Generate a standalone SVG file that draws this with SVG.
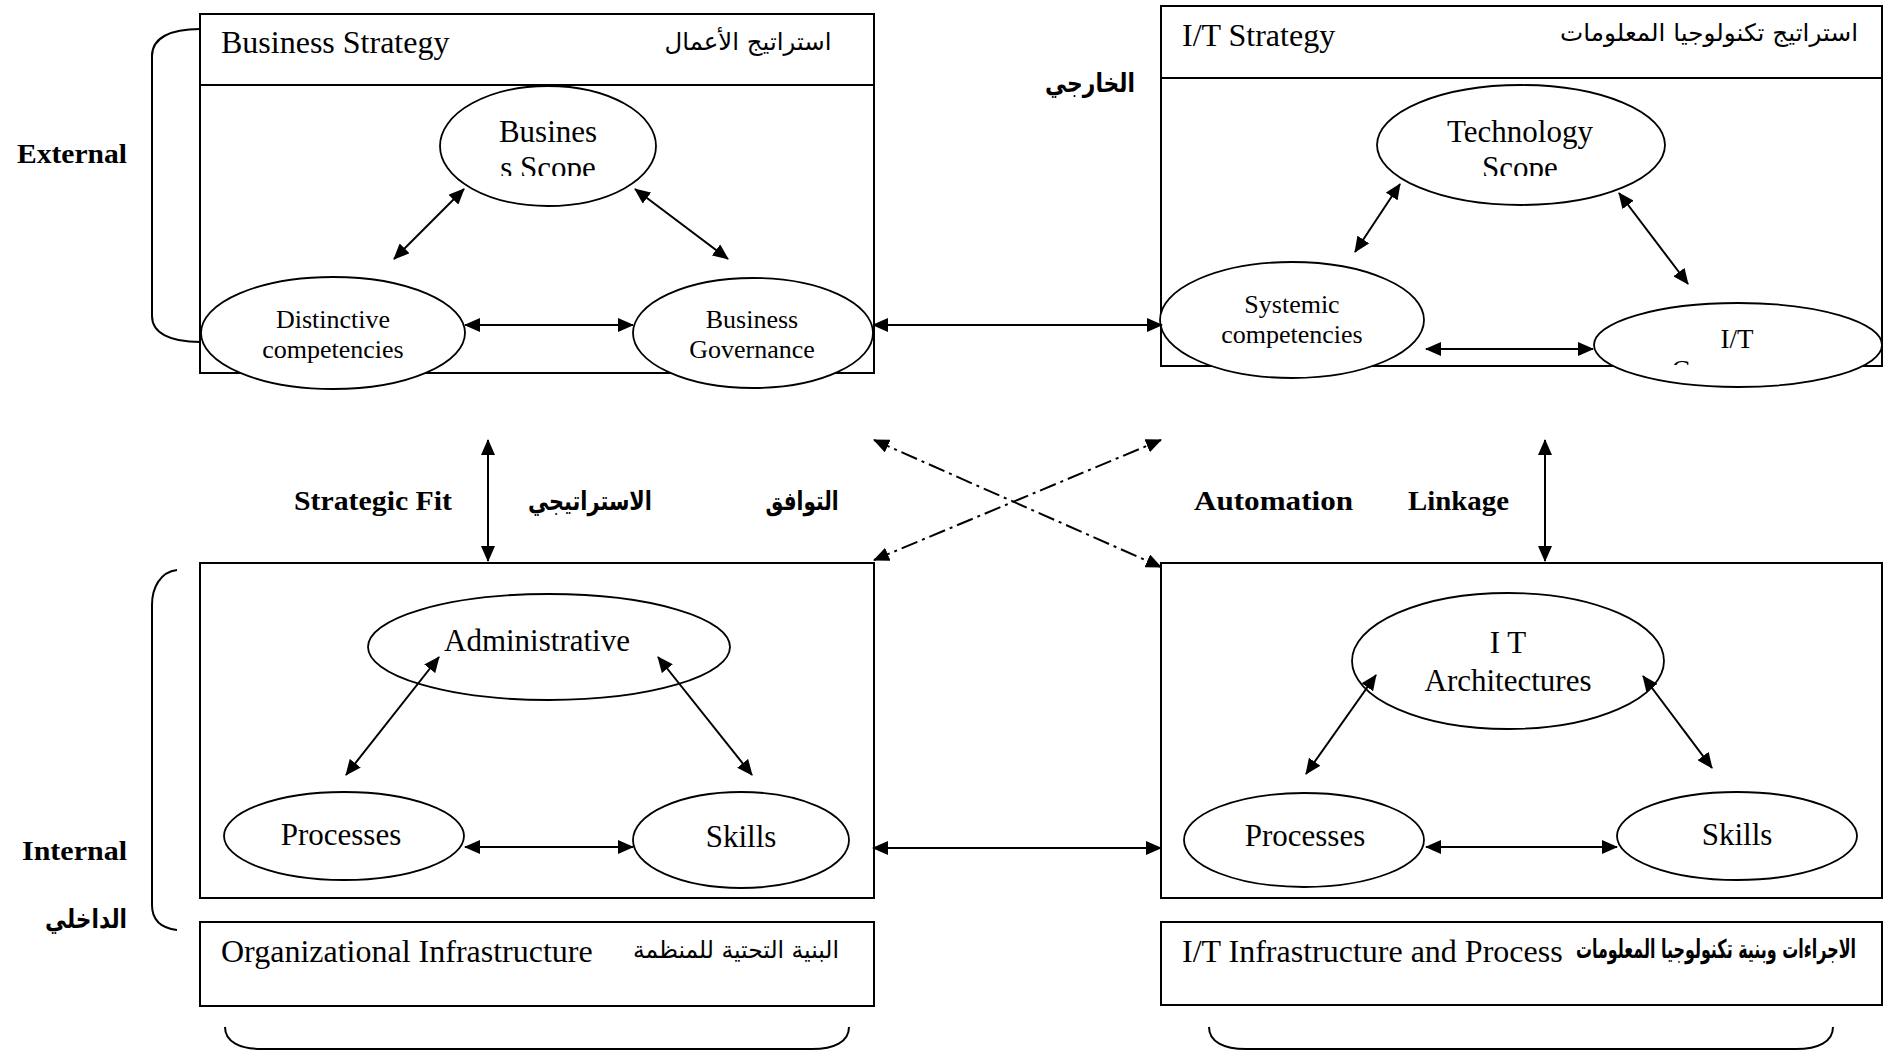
<svg xmlns="http://www.w3.org/2000/svg" width="1890" height="1052" viewBox="0 0 1890 1052">
  <style>
    .box { fill: none; stroke: #000; stroke-width: 2; }
    .node { fill: #fff; stroke: #000; stroke-width: 1.8; }
    .brace { fill: none; stroke: #000; stroke-width: 2; }
    .en { font-family: "Liberation Serif", "Times New Roman", serif; fill: #000; }
    .lbl { font-family: "Liberation Serif", "Times New Roman", serif; font-weight: bold; font-size: 28px; fill: #000; }
    .ar { font-family: "DejaVu Sans", "Noto Sans", sans-serif; font-size: 24px; fill: #000; }
    .arb { font-family: "DejaVu Sans", "Noto Sans", sans-serif; font-weight: bold; font-size: 26px; fill: #000; }
    .mid { text-anchor: middle; }
    .link { fill: none; stroke: #000; stroke-width: 2; marker-start: url(#ah); marker-end: url(#ah); }
    .dash { stroke-dasharray: 17 5 3 5; }
  </style>
  <defs>
    <marker id="ah" viewBox="0 0 16 14" refX="15" refY="7" markerWidth="16" markerHeight="14" markerUnits="userSpaceOnUse" orient="auto-start-reverse">
      <path d="M0,0 L16,7 L0,14 z" fill="#000"/>
    </marker>
    <clipPath id="clipBizScope"><rect x="430" y="80" width="240" height="96"/></clipPath>
    <clipPath id="clipTechScope"><rect x="1380" y="80" width="280" height="96"/></clipPath>
    <clipPath id="clipItGov"><rect x="1590" y="300" width="300" height="65"/></clipPath>
  </defs>

  <rect width="1890" height="1052" fill="#fff"/>

  <!-- side braces -->
  <g id="braces">
    <path class="brace" d="M200,29 C170,29 152,38 152,56 L152,316 C152,333 170,342 200,342"/>
    <path class="brace" d="M177,570 C160,572 152,588 152,605 L152,905 C152,920 160,928 177,930"/>
    <path class="brace" d="M225,1027 C225,1042 240,1049 262,1049 L812,1049 C834,1049 849,1042 849,1027"/>
    <path class="brace" d="M1209,1027 C1209,1042 1224,1049 1246,1049 L1796,1049 C1818,1049 1833,1042 1833,1027"/>
  </g>

  <!-- side labels -->
  <g id="labels">
    <text class="lbl" x="17" y="163" textLength="110" lengthAdjust="spacingAndGlyphs">External</text>
    <text class="lbl" x="22" y="860" textLength="105" lengthAdjust="spacingAndGlyphs">Internal</text>
    <text class="arb mid" x="86" y="928" textLength="82" lengthAdjust="spacingAndGlyphs">الداخلي</text>
    <text class="arb mid" x="1090" y="92" textLength="90" lengthAdjust="spacingAndGlyphs">الخارجي</text>
    <text class="lbl" x="294" y="510" textLength="158" lengthAdjust="spacingAndGlyphs">Strategic Fit</text>
    <text class="arb mid" x="590" y="510" textLength="124" lengthAdjust="spacingAndGlyphs">الاستراتيجي</text>
    <text class="arb mid" x="802" y="510" textLength="73" lengthAdjust="spacingAndGlyphs">التوافق</text>
    <text class="lbl" x="1194" y="510" textLength="159" lengthAdjust="spacingAndGlyphs">Automation</text>
    <text class="lbl" x="1408" y="510" textLength="101" lengthAdjust="spacingAndGlyphs">Linkage</text>
  </g>

  <!-- domain boxes -->
  <g id="business-strategy">
    <rect class="box" x="200" y="14" width="674" height="359"/>
    <line class="box" x1="200" y1="85" x2="874" y2="85"/>
    <text class="en" x="221" y="53" font-size="32">Business Strategy</text>
    <text class="ar mid" x="748" y="50" textLength="167" lengthAdjust="spacingAndGlyphs">استراتيج الأعمال</text>
  </g>
  <g id="it-strategy">
    <rect class="box" x="1161" y="6" width="721" height="360"/>
    <line class="box" x1="1161" y1="78" x2="1882" y2="78"/>
    <text class="en" x="1182" y="46" font-size="32">I/T Strategy</text>
    <text class="ar mid" x="1709" y="41" textLength="298" lengthAdjust="spacingAndGlyphs">استراتيج تكنولوجيا المعلومات</text>
  </g>
  <g id="organizational-infrastructure">
    <rect class="box" x="200" y="563" width="674" height="335"/>
    <rect class="box" x="200" y="922" width="674" height="84"/>
    <text class="en" x="221" y="962" font-size="32">Organizational Infrastructure</text>
    <text class="ar mid" x="736" y="958" textLength="206" lengthAdjust="spacingAndGlyphs">البنية التحتية للمنظمة</text>
  </g>
  <g id="it-infrastructure">
    <rect class="box" x="1161" y="922" width="721" height="83"/>
    <rect class="box" x="1161" y="563" width="721" height="335"/>
    <text class="en" x="1182" y="962" font-size="32">I/T Infrastructure and Process</text>
    <text class="arb mid" x="1716" y="958" font-size="21" textLength="280" lengthAdjust="spacingAndGlyphs">الاجراءات وبنية تكنولوجيا المعلومات</text>
  </g>

  <!-- component nodes -->
  <g id="business-scope">
    <ellipse class="node" cx="548" cy="146" rx="108" ry="60"/>
    <g clip-path="url(#clipBizScope)">
      <text class="en mid" x="548" y="142" font-size="31">Busines</text>
      <text class="en mid" x="548" y="178" font-size="31">s Scope</text>
    </g>
  </g>
  <g id="distinctive-competencies">
    <ellipse class="node" cx="333" cy="333" rx="132" ry="56"/>
    <text class="en mid" x="333" y="328" font-size="26">Distinctive</text>
    <text class="en mid" x="333" y="358" font-size="26">competencies</text>
  </g>
  <g id="business-governance">
    <ellipse class="node" cx="753" cy="333" rx="120" ry="55"/>
    <text class="en mid" x="752" y="328" font-size="26">Business</text>
    <text class="en mid" x="752" y="358" font-size="26">Governance</text>
  </g>
  <g id="technology-scope">
    <ellipse class="node" cx="1521" cy="145" rx="144" ry="60"/>
    <g clip-path="url(#clipTechScope)">
      <text class="en mid" x="1520" y="142" font-size="31">Technology</text>
      <text class="en mid" x="1520" y="178" font-size="31">Scope</text>
    </g>
  </g>
  <g id="systemic-competencies">
    <ellipse class="node" cx="1292" cy="320" rx="132" ry="58"/>
    <text class="en mid" x="1292" y="313" font-size="26">Systemic</text>
    <text class="en mid" x="1292" y="343" font-size="26">competencies</text>
  </g>
  <g id="it-governance">
    <ellipse class="node" cx="1738" cy="345" rx="144" ry="42"/>
    <g clip-path="url(#clipItGov)">
      <text class="en mid" x="1737" y="348" font-size="27">I/T</text>
      <text class="en mid" x="1737" y="379" font-size="27">Governance</text>
    </g>
  </g>
  <g id="administrative">
    <ellipse class="node" cx="549" cy="647" rx="181" ry="53"/>
    <text class="en mid" x="537" y="651" font-size="31">Administrative</text>
  </g>
  <g id="org-processes">
    <ellipse class="node" cx="344" cy="836" rx="120" ry="44"/>
    <text class="en mid" x="341" y="845" font-size="31">Processes</text>
  </g>
  <g id="org-skills">
    <ellipse class="node" cx="741" cy="840" rx="108" ry="48"/>
    <text class="en mid" x="741" y="847" font-size="31">Skills</text>
  </g>
  <g id="it-architectures">
    <ellipse class="node" cx="1508" cy="661" rx="156" ry="68"/>
    <text class="en mid" x="1508" y="653" font-size="31">I T</text>
    <text class="en mid" x="1508" y="691" font-size="31">Architectures</text>
  </g>
  <g id="it-processes">
    <ellipse class="node" cx="1304" cy="840" rx="120" ry="47"/>
    <text class="en mid" x="1305" y="846" font-size="31">Processes</text>
  </g>
  <g id="it-skills">
    <ellipse class="node" cx="1737" cy="836" rx="120" ry="44"/>
    <text class="en mid" x="1737" y="845" font-size="31">Skills</text>
  </g>

  <!-- connectors -->
  <g id="connectors">
    <line class="link" x1="464" y1="189" x2="394" y2="259"/>
    <line class="link" x1="635" y1="189" x2="728" y2="259"/>
    <line class="link" x1="465" y1="325" x2="633" y2="325"/>
    <line class="link" x1="873" y1="325" x2="1162" y2="325"/>
    <line class="link" x1="1400" y1="184" x2="1355" y2="252"/>
    <line class="link" x1="1619" y1="193" x2="1688" y2="284"/>
    <line class="link" x1="1426" y1="349" x2="1593" y2="349"/>
    <line class="link" x1="488" y1="440" x2="488" y2="561"/>
    <line class="link" x1="1545" y1="440" x2="1545" y2="561"/>
    <line class="link dash" x1="874" y1="440" x2="1161" y2="567"/>
    <line class="link dash" x1="874" y1="560" x2="1161" y2="440"/>
    <line class="link" x1="439" y1="657" x2="346" y2="775"/>
    <line class="link" x1="658" y1="657" x2="752" y2="775"/>
    <line class="link" x1="465" y1="847" x2="633" y2="847"/>
    <line class="link" x1="873" y1="848" x2="1161" y2="848"/>
    <line class="link" x1="1376" y1="675" x2="1306" y2="774"/>
    <line class="link" x1="1643" y1="676" x2="1712" y2="768"/>
    <line class="link" x1="1426" y1="847" x2="1617" y2="847"/>
  </g>
</svg>
